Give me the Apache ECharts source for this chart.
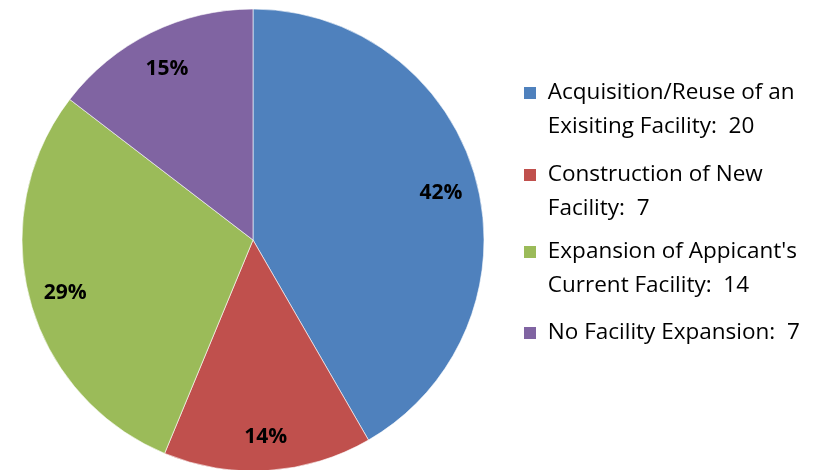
<!DOCTYPE html>
<html>
<head>
<meta charset="utf-8">
<script src="https://cdn.jsdelivr.net/npm/echarts@6/dist/echarts.min.js"></script>
<style>
  html, body { margin: 0; padding: 0; background: #fff; }
  #chart { width: 827px; height: 470px; }
</style>
</head>
<body>
<div id="chart"></div>
<script>
// chart data
var categories = [
  'Acquisition/Reuse of an Exisiting Facility',
  'Construction of New Facility',
  "Expansion of Appicant's Current Facility",
  'No Facility Expansion'
]
var values = [20, 7, 14, 7]
var percentLabels = ['42%', '14%', '29%', '15%']
var legendLines = [
  ['Acquisition/Reuse of an', 'Exisiting Facility:  20'],
  ['Construction of New', 'Facility:  7'],
  ["Expansion of Appicant's", 'Current Facility:  14'],
  ['No Facility Expansion:  7']
]
var colors = ['#4F81BD', '#C0504D', '#9BBB59', '#8064A2']

// y of the first text line of each legend entry
var legendFirstLine = [93, 175, 252, 333]
var LINE_H = 34

var chart = echarts.init(document.getElementById('chart'))

var pieData = categories.map(function (name, i) {
  return { name: name, value: values[i], itemStyle: { color: colors[i] } }
})

// one legend per entry so the icon can sit on the first line of a two line label
var legends = categories.map(function (name, i) {
  var lines = legendLines[i].map(function (s) { return ' ' + s })
  var text = lines.length > 1 ? ' \n' + lines.join('\n') : lines[0]
  var top = lines.length > 1 ? legendFirstLine[i] - LINE_H / 2 - LINE_H : legendFirstLine[i] - LINE_H / 2
  return {
    orient: 'vertical',
    left: 522,
    top: top,
    padding: 0,
    data: [name],
    selectedMode: false,
    icon: 'rect',
    itemWidth: 14,
    itemHeight: 14,
    formatter: function () { return text },
    textStyle: {
      fontFamily: 'Open Sans',
      fontSize: 22.5,
      lineHeight: LINE_H,
      color: '#000'
    }
  }
})

chart.setOption({
  animation: false,
  legend: legends,
  series: [
    {
      type: 'pie',
      center: [253, 240],
      radius: 231,
      startAngle: 90,
      clockwise: true,
      label: { show: false },
      labelLine: { show: false },
      itemStyle: { borderColor: '#fff', borderWidth: 0.6 },
      data: pieData
    },
    {
      // transparent ring, only used to place the percent labels near the rim
      type: 'pie',
      center: [253, 243],
      radius: [152, 231],
      startAngle: 90,
      silent: true,
      legendHoverLink: false,
      itemStyle: { color: 'rgba(0,0,0,0)' },
      label: {
        show: true,
        position: 'inside',
        fontFamily: 'Open Sans',
        fontWeight: 'bold',
        fontSize: 21,
        color: '#000',
        formatter: function (p) { return percentLabels[p.dataIndex] }
      },
      labelLine: { show: false },
      data: categories.map(function (name, i) {
        return { name: name + ' ', value: values[i] }
      })
    }
  ]
})
</script>
</body>
</html>
